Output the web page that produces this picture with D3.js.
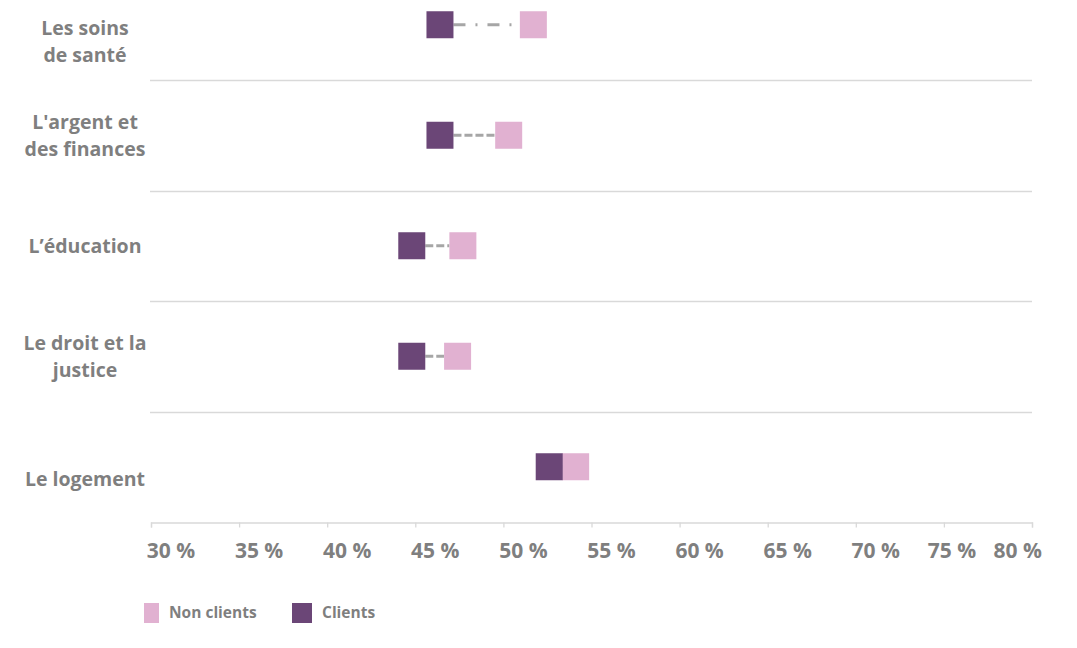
<!DOCTYPE html>
<html>
<head>
<meta charset="utf-8">
<script src="https://cdn.jsdelivr.net/npm/d3@7"></script>
<style>
  body { margin: 0; background: #fff; }
  text { font-family: "Open Sans", "Noto Sans", sans-serif; font-weight: bold; fill: #7f7f7f; }
</style>
</head>
<body>
<script>
// categories, top to bottom
var categories = [
    ["Les soins", "de santé"],
    ["L'argent et", "des finances"],
    ["L\u2019éducation"],
    ["Le droit et la", "justice"],
    ["Le logement"]
];
// percent values
var clients = [46.4, 46.4, 44.8, 44.8, 52.6];
var nonClients = [51.7, 50.3, 47.7, 47.4, 54.1];
var ticks = [30, 35, 40, 45, 50, 55, 60, 65, 70, 75, 80];
var seriesNames = ["Non clients", "Clients"];

// line style of the connector in each row
var dashes = ["12,10,2,10", "8,3", "8,3", "8,3", "8,3"];

window.onload = function(){
    var w = 1077, h = 648;
    var purple = "#6b4677", pink = "#e1b1d1";

    var svg = d3.select("body")
        .append("svg")
        .attr("width", w)
        .attr("height", h);

    var x = d3.scaleLinear()
        .domain([30, 80])
        .range([151, 1032]);

    var y = d3.scaleBand()
        .domain(d3.range(categories.length))
        .range([-30.5, 522]);

    var cy = function(i){ return y(i) + y.bandwidth() / 2; };

    // grid lines between rows
    svg.selectAll(".grid")
        .data(d3.range(1, categories.length))
        .enter()
        .append("line")
        .attr("x1", 150).attr("x2", 1032)
        .attr("y1", function(d){ return Math.round(y(d)) + 0.5; })
        .attr("y2", function(d){ return Math.round(y(d)) + 0.5; })
        .style("stroke", "#d9d9d9")
        .style("stroke-width", 1.3);

    // x axis
    var xAxis = d3.axisBottom(x)
        .tickValues(ticks)
        .tickSize(5)
        .tickFormat("");
    var axis = svg.append("g")
        .attr("transform", "translate(0, 522.5)")
        .call(xAxis);
    axis.select(".domain").style("stroke", "#d9d9d9").style("stroke-width", 1.3);
    axis.selectAll(".tick line").style("stroke", "#d9d9d9").style("stroke-width", 1.3);

    // tick labels sit a little to the right of their ticks
    svg.selectAll(".tickLabel")
        .data(ticks)
        .enter()
        .append("text")
        .attr("class", "tickLabel")
        .attr("x", function(d, i){
            if (i === ticks.length - 1) return x(d) + 10;
            if (i === ticks.length - 2) return x(d) + 8;
            return x(d) + 20;
        })
        .attr("y", 558)
        .attr("text-anchor", function(d, i){ return i === ticks.length - 1 ? "end" : "middle"; })
        .style("font-size", "21px")
        .text(function(d){ return d + " %"; });

    // category labels
    var labels = svg.selectAll(".catLabel")
        .data(categories)
        .enter()
        .append("text")
        .attr("class", "catLabel")
        .attr("text-anchor", "middle")
        .style("font-size", "19.5px");
    labels.each(function(d, i){
        var lh = 26.5;
        var top = cy(i) - (d.length - 1) * lh / 2;
        if (top < 28) top = 28;
        if (i === categories.length - 1) top += 12;
        d3.select(this).selectAll("tspan")
            .data(d)
            .enter()
            .append("tspan")
            .attr("x", 85)
            .attr("y", function(t, j){ return top + j * lh + 7; })
            .text(function(t){ return t; });
    });

    var s = 27;

    // connectors
    svg.selectAll(".conn")
        .data(clients)
        .enter()
        .append("line")
        .attr("class", "conn")
        .attr("x1", function(d){ return x(d) + s / 2; })
        .attr("x2", function(d, i){ return x(nonClients[i]) - s / 2; })
        .attr("y1", function(d, i){ return cy(i); })
        .attr("y2", function(d, i){ return cy(i); })
        .style("stroke", "#a6a6a6")
        .style("stroke-width", 3)
        .style("stroke-dasharray", function(d, i){ return dashes[i]; });

    // markers
    svg.selectAll(".nonClient")
        .data(nonClients)
        .enter()
        .append("rect")
        .attr("x", function(d){ return x(d) - s / 2; })
        .attr("y", function(d, i){ return cy(i) - s / 2; })
        .attr("width", s).attr("height", s)
        .style("fill", pink);

    svg.selectAll(".client")
        .data(clients)
        .enter()
        .append("rect")
        .attr("x", function(d){ return x(d) - s / 2; })
        .attr("y", function(d, i){ return cy(i) - s / 2; })
        .attr("width", s).attr("height", s)
        .style("fill", purple);

    // legend
    var legend = svg.selectAll(".legend")
        .data(seriesNames)
        .enter()
        .append("g")
        .attr("transform", function(d, i){ return "translate(" + (i === 0 ? 144 : 292) + ", 603)"; });
    legend.append("rect")
        .attr("width", function(d, i){ return i === 0 ? 15 : 20; })
        .attr("height", 20)
        .style("fill", function(d, i){ return i === 0 ? pink : purple; });
    legend.append("text")
        .attr("x", function(d, i){ return i === 0 ? 25 : 30; })
        .attr("y", 15)
        .style("font-size", "15.5px")
        .text(function(d){ return d; });
};
</script>
</body>
</html>
